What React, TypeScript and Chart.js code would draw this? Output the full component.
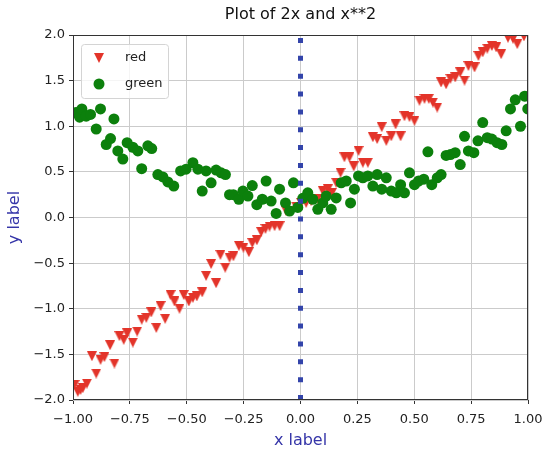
import React, { useEffect, useRef } from "react";
import { Chart, registerables } from "chart.js";

Chart.register(...registerables);

const TITLE = "Plot of 2x and x**2";
const X_LABEL = "x label";
const Y_LABEL = "y label";
const LEGEND_LABELS = ["red", "green"];

const X_MIN = -1;
const X_MAX = 1;
const X_STEP = 0.25;
const Y_MIN = -2;
const Y_MAX = 2;
const Y_STEP = 0.5;

const redX = [
  -0.993, -0.979, -0.967, -0.957, -0.939, -0.917, -0.898, -0.879, -0.862, -0.837,
  -0.818, -0.796, -0.777, -0.762, -0.737, -0.718, -0.698, -0.678, -0.656, -0.634,
  -0.615, -0.595, -0.571, -0.554, -0.532, -0.513, -0.491, -0.473, -0.456, -0.432,
  -0.415, -0.393, -0.371, -0.352, -0.331, -0.312, -0.295, -0.271, -0.251, -0.227,
  -0.212, -0.192, -0.173, -0.154, -0.136, -0.114, -0.092, -0.063, -0.041, -0.019,
  0.003, 0.025, 0.047, 0.076, 0.098, 0.12, 0.138, 0.157, 0.176, 0.193,
  0.215, 0.234, 0.255, 0.274, 0.296, 0.318, 0.337, 0.357, 0.377, 0.399,
  0.418, 0.44, 0.457, 0.479, 0.501, 0.523, 0.545, 0.564, 0.582, 0.601,
  0.618, 0.64, 0.659, 0.68, 0.702, 0.721, 0.738, 0.765, 0.782, 0.801,
  0.821, 0.841, 0.86, 0.882, 0.912, 0.934, 0.953, 0.982,
];
const redY = [
  -1.835, -1.91, -1.89, -1.87, -1.82, -1.52, -1.71, -1.56, -1.53, -1.4,
  -1.6, -1.3, -1.34, -1.27, -1.37, -1.25, -1.12, -1.1, -1.04, -1.21,
  -0.97, -1.11, -0.85, -0.92, -1.0, -0.85, -0.92, -0.88, -0.865, -0.82,
  -0.64, -0.51, -0.72, -0.41, -0.55, -0.44, -0.425, -0.31, -0.33, -0.38,
  -0.28, -0.25, -0.16, -0.125, -0.1, -0.095, -0.095, 0.07, 0.07, 0.12,
  0.16, 0.16, 0.18, 0.2, 0.29, 0.31, 0.27, 0.38, 0.49, 0.66,
  0.66, 0.56, 0.73, 0.6, 0.6, 0.88, 0.86, 0.99, 0.84, 0.89,
  1.02, 0.89, 1.11, 1.1, 1.06, 1.28, 1.3, 1.3, 1.26, 1.205,
  1.48, 1.46, 1.52, 1.535, 1.59, 1.5, 1.66, 1.645, 1.77, 1.81,
  1.85, 1.88, 1.865, 1.79, 1.97, 1.96, 1.9, 1.985,
];

const greenX = [
  -0.986, -0.971, -0.961, -0.942, -0.923, -0.898, -0.879, -0.854, -0.835, -0.82,
  -0.803, -0.781, -0.762, -0.737, -0.715, -0.698, -0.671, -0.654, -0.627, -0.605,
  -0.583, -0.557, -0.527, -0.503, -0.473, -0.451, -0.432, -0.415, -0.393, -0.371,
  -0.349, -0.33, -0.312, -0.295, -0.271, -0.253, -0.231, -0.212, -0.192, -0.168,
  -0.151, -0.129, -0.107, -0.092, -0.066, -0.048, -0.031, -0.012, 0.01, 0.032,
  0.054, 0.076, 0.098, 0.113, 0.135, 0.157, 0.179, 0.201, 0.22, 0.237,
  0.255, 0.274, 0.296, 0.318, 0.337, 0.357, 0.377, 0.399, 0.421, 0.44,
  0.457, 0.479, 0.501, 0.519, 0.542, 0.56, 0.577, 0.601, 0.618, 0.64,
  0.659, 0.68, 0.702, 0.721, 0.738, 0.762, 0.78, 0.801, 0.821, 0.841,
  0.864, 0.885, 0.904, 0.923, 0.944, 0.967, 0.985, 0.999,
];
const greenY = [
  1.15, 1.1, 1.19, 1.11, 1.13, 0.97, 1.19, 0.8, 0.865, 1.08,
  0.73, 0.64, 0.82, 0.77, 0.73, 0.535, 0.785, 0.755, 0.47, 0.445,
  0.39, 0.345, 0.51, 0.53, 0.6, 0.53, 0.29, 0.51, 0.38, 0.52,
  0.49, 0.47, 0.25, 0.25, 0.2, 0.29, 0.235, 0.35, 0.14, 0.2,
  0.4, 0.18, 0.045, 0.31, 0.16, 0.07, 0.38, 0.11, 0.21, 0.27,
  0.2, 0.09, 0.16, 0.235, 0.09, 0.215, 0.38, 0.4, 0.16, 0.31,
  0.455, 0.435, 0.455, 0.345, 0.47, 0.31, 0.435, 0.29, 0.27, 0.36,
  0.27, 0.49, 0.36, 0.4, 0.42, 0.72, 0.36, 0.435, 0.47, 0.68,
  0.69, 0.71, 0.58, 0.89, 0.73, 0.71, 0.84, 1.04, 0.875, 0.86,
  0.82, 0.8, 0.95, 1.19, 1.29, 1.0, 1.33, 1.19,
];

const vlineX = [0, 0];
const vlineY = [-2, 2];

const RED = "#e3342a";
const GREEN = "#0c800c";
const BLUE_LINE = "#3344aa";
const LABEL_BLUE = "#3535a8";
const FONT = "'DejaVu Sans', sans-serif";

function makeTriangle(color: string, size: number) {
  const c = document.createElement("canvas");
  c.width = size;
  c.height = size;
  const g = c.getContext("2d")!;
  g.fillStyle = color;
  g.beginPath();
  g.moveTo(0, 0);
  g.lineTo(size, 0);
  g.lineTo(size / 2, size);
  g.closePath();
  g.fill();
  return c;
}

function fmt(v: number, d: number) {
  const s = Math.abs(v) < 1e-9 ? (0).toFixed(d) : v.toFixed(d);
  return s.replace("-", "\u2212");
}

export default function App() {
  const ref = useRef<HTMLCanvasElement | null>(null);

  useEffect(() => {
    if (!ref.current) return;
    const tri = makeTriangle(RED, 10);

    const decor = {
      id: "decor",
      afterDatasetsDraw(chart: any) {
        const { ctx, chartArea } = chart;
        ctx.save();
        ctx.strokeStyle = "#333333";
        ctx.lineWidth = 1;
        ctx.strokeRect(
          Math.round(chartArea.left) + 0.5,
          Math.round(chartArea.top) + 0.5,
          Math.round(chartArea.right - chartArea.left) - 1,
          Math.round(chartArea.bottom - chartArea.top) - 1
        );
        ctx.restore();
      },
      afterDraw(chart: any) {
        const { ctx, chartArea } = chart;
        const cx = (chartArea.left + chartArea.right) / 2;
        const cy = (chartArea.top + chartArea.bottom) / 2;
        ctx.save();
        ctx.fillStyle = "#111111";
        ctx.font = `16px ${FONT}`;
        ctx.textAlign = "center";
        ctx.textBaseline = "middle";
        ctx.fillText(TITLE, cx, 15);
        ctx.fillStyle = LABEL_BLUE;
        ctx.font = `16px ${FONT}`;
        ctx.fillText(X_LABEL, cx, 441);
        ctx.translate(15, cy);
        ctx.rotate(-Math.PI / 2);
        ctx.fillText(Y_LABEL, 0, 0);
        ctx.restore();

        ctx.save();
        const lx = chartArea.left + 8;
        const ly = chartArea.top + 9;
        const lw = 87;
        const lh = 54;
        ctx.beginPath();
        if (ctx.roundRect) ctx.roundRect(lx + 0.5, ly + 0.5, lw, lh, 3);
        else ctx.rect(lx + 0.5, ly + 0.5, lw, lh);
        ctx.fillStyle = "rgba(255,255,255,0.8)";
        ctx.fill();
        ctx.strokeStyle = "#d4d4d4";
        ctx.lineWidth = 1;
        ctx.stroke();
        const mx = lx + 18;
        const r1 = ly + 14;
        const r2 = ly + 40;
        ctx.drawImage(tri, mx - 5, r1 - 5);
        ctx.beginPath();
        ctx.arc(mx, r2, 5.5, 0, Math.PI * 2);
        ctx.fillStyle = GREEN;
        ctx.fill();
        ctx.fillStyle = "#222222";
        ctx.font = `13px ${FONT}`;
        ctx.textAlign = "left";
        ctx.textBaseline = "middle";
        ctx.fillText(LEGEND_LABELS[0], lx + 44, r1);
        ctx.fillText(LEGEND_LABELS[1], lx + 44, r2);
        ctx.restore();
      },
    };

    const chart = new Chart(ref.current, {
      type: "scatter",
      data: {
        datasets: [
          {
            type: "line",
            label: "x=0",
            data: vlineX.map((x, i) => ({ x, y: vlineY[i] })),
            borderColor: BLUE_LINE,
            borderWidth: 5,
            borderDash: [5, 12.85],
            borderCapStyle: "butt",
            pointRadius: 0,
            fill: false,
            order: 0,
          } as any,
          {
            label: LEGEND_LABELS[1],
            data: greenX.map((x, i) => ({ x, y: greenY[i] })),
            pointStyle: "circle",
            pointRadius: 5.5,
            pointBackgroundColor: GREEN,
            pointBorderWidth: 0,
            borderColor: GREEN,
            order: 1,
          },
          {
            label: LEGEND_LABELS[0],
            data: redX.map((x, i) => ({ x, y: redY[i] })),
            pointStyle: tri as any,
            pointRadius: 5,
            pointBackgroundColor: RED,
            pointBorderWidth: 0,
            order: 2,
          },
        ],
      },
      options: {
        responsive: false,
        animation: false,
        events: [],
        layout: { padding: { top: 35, right: 16, left: 0, bottom: 0 } },
        plugins: {
          legend: { display: false },
          title: { display: false },
          tooltip: { enabled: false },
        },
        scales: {
          x: {
            type: "linear",
            min: X_MIN,
            max: X_MAX,
            afterFit: (s: any) => {
              s.height = 55;
              s.paddingLeft = 0;
              s.paddingRight = 0;
            },
            border: { display: false },
            grid: {
              color: "#cbcbcb",
              lineWidth: 1,
              tickColor: "#333333",
              tickLength: 4,
              drawTicks: true,
            },
            ticks: {
              stepSize: X_STEP,
              padding: 8,
              color: "#222222",
              font: { family: FONT, size: 13 },
              maxRotation: 0,
              callback: (v: any) => fmt(Number(v), 2),
            },
          },
          y: {
            type: "linear",
            min: Y_MIN,
            max: Y_MAX,
            afterFit: (s: any) => {
              s.width = 73;
              s.paddingTop = 0;
              s.paddingBottom = 0;
            },
            border: { display: false },
            grid: {
              color: "#cbcbcb",
              lineWidth: 1,
              tickColor: "#333333",
              tickLength: 4,
              drawTicks: true,
            },
            ticks: {
              stepSize: Y_STEP,
              padding: 4,
              color: "#222222",
              font: { family: FONT, size: 13 },
              callback: (v: any) => fmt(Number(v), 1),
            },
          },
        },
      },
      plugins: [decor],
    });
    return () => chart.destroy();
  }, []);

  return (
    <div style={{ position: "fixed", left: 0, top: 0, width: 544, height: 455, background: "#fff" }}>
      <canvas ref={ref} width={544} height={455} style={{ width: 544, height: 455 }} />
    </div>
  );
}
